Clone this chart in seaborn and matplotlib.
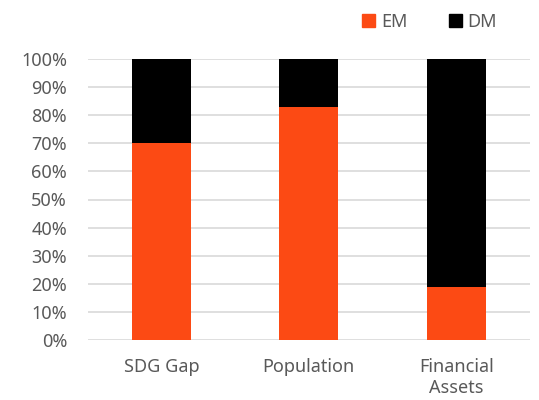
import pandas as pd
import matplotlib.pyplot as plt
import seaborn as sns
from matplotlib.patches import Patch
from matplotlib.ticker import PercentFormatter

categories = ['SDG Gap', 'Population', 'Financial\nAssets']
em_share = [70, 83, 19]
dm_share = [30, 17, 81]

EM_COLOR = '#fc4a14'
DM_COLOR = '#000000'
TEXT_COLOR = '#595959'

sns.set_style('white')
plt.rcParams['font.family'] = ['Noto Sans', 'DejaVu Sans']

df = pd.DataFrame({'category': categories, 'EM': em_share, 'DM': dm_share})
df['total'] = df['EM'] + df['DM']

fig = plt.figure(figsize=(5.39, 4.0), dpi=100)
ax = fig.add_axes([0.163, 0.15, 0.82, 0.7025])

# DM stacked on top of EM: draw full height in black, then EM over it
sns.barplot(data=df, x='category', y='total', color=DM_COLOR, width=0.4,
            saturation=1, linewidth=0, ax=ax, zorder=2)
sns.barplot(data=df, x='category', y='EM', color=EM_COLOR, width=0.4,
            saturation=1, linewidth=0, ax=ax, zorder=3)

ax.set_ylim(0, 100)
ax.set_yticks(range(0, 101, 10))
ax.yaxis.set_major_formatter(PercentFormatter(decimals=0))
ax.grid(True, axis='y', color='#d9d9d9', linewidth=1.2, zorder=0)
ax.set_axisbelow(True)
for s in ax.spines.values():
    s.set_visible(False)
ax.set_xlabel('')
ax.set_ylabel('')
ax.tick_params(axis='both', length=0, labelsize=13, colors=TEXT_COLOR)
ax.tick_params(axis='y', pad=15)
ax.tick_params(axis='x', pad=13)
for lbl in ax.get_xticklabels():
    lbl.set_linespacing(1.22)

handles = [Patch(color=EM_COLOR, label='EM'), Patch(color=DM_COLOR, label='DM')]
fig.legend(handles=handles, loc='center', bbox_to_anchor=(0.797, 0.945), ncol=2,
           frameon=False, fontsize=13, handlelength=0.75, handleheight=0.75,
           handletextpad=0.3, columnspacing=2.3, labelcolor=TEXT_COLOR)

plt.savefig('out.png', dpi=100)
